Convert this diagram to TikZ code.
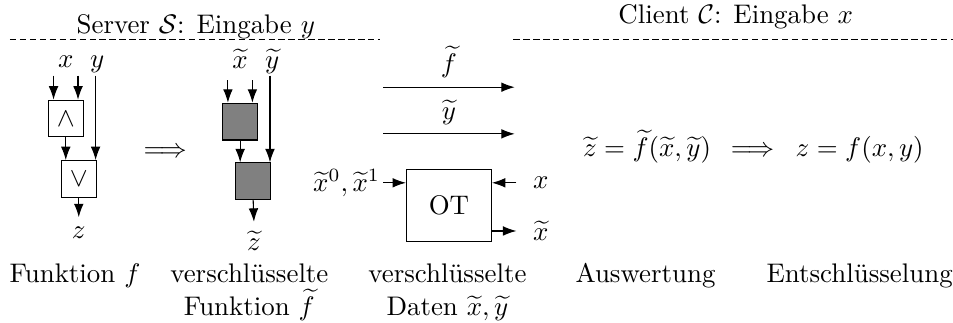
\documentclass[tikz,border=0pt]{standalone}
\usetikzlibrary{arrows.meta}
\tikzset{
  gate/.style={draw, minimum width=0.46cm, minimum height=0.48cm, inner sep=0pt},
  egate/.style={gate, fill=gray},
  side/.style={inner sep=6pt},
  caption/.style={anchor=base, align=center},
  sep/.style={dash pattern=on 2.4pt off 1.3pt}
}
\begin{document}
\begin{tikzpicture}[>={Latex[length=5pt,width=3.6pt]}]
    \useasboundingbox (0,0) rectangle (12.46,4.21);
    % Headers
    \node[anchor=base] (srv) at (2.56,3.77) {Server $\mathcal{S}$: Eingabe $y$};
    \node[anchor=base] (cli) at (9.62,3.90) {Client $\mathcal{C}$: Eingabe $x$};
    \draw[sep] (0.13,3.69) -- (4.97,3.69);
    \draw[sep] (6.71,3.69) -- (12.46,3.69);
    % Plain circuit
    \coordinate (top) at (0,3.22);
    \node[gate] (and) at (0.86,2.66) {$\wedge$};
    \node[gate] (or) at (1.03,1.87) {$\vee$};
    \node[anchor=base] (x) at (0.86,3.33) {$x$};
    \node[anchor=base] (y) at (1.27,3.33) {$y$};
    \node[anchor=north] (z) at (1.03,1.37) {$z$};
    \coordinate (a1) at ([xshift=-0.16cm]and.north);
    \coordinate (a2) at ([xshift=0.16cm]and.north);
    \coordinate (yin) at (1.25,3.22);
    \draw[->] (a1 |- top) -- (a1);
    \draw[->] (a2 |- top) -- (a2);
    \draw[->] (and.south) -- (and.south |- or.north);
    \draw[->] (yin) -- (yin |- or.north);
    \draw[->] (or.south) -- (z.north);
    \node (imp1) at (2.16,2.22) {$\Longrightarrow$};
    % Garbled circuit
    \coordinate (etop) at (0,3.16);
    \node[egate] (eand) at (3.14,2.62) {};
    \node[egate] (eor) at (3.31,1.84) {};
    \node[anchor=base] (ex) at (3.14,3.31) {$\widetilde{x}$};
    \node[anchor=base] (ey) at (3.56,3.31) {$\widetilde{y}$};
    \node[anchor=north] (ez) at (3.32,1.31) {$\widetilde{z}$};
    \coordinate (e1) at ([xshift=-0.16cm]eand.north);
    \coordinate (e2) at ([xshift=0.16cm]eand.north);
    \coordinate (eyin) at (3.53,3.22);
    \draw[->] (e1 |- etop) -- (e1);
    \draw[->] (e2 |- etop) -- (e2);
    \draw[->] (eand.south) -- (eand.south |- eor.north);
    \draw[->] (eyin) -- (eyin |- eor.north);
    \draw[->] (eor.south) -- (ez.north);
    % Transfer
    \coordinate (fs) at (5.01,3.07);
    \coordinate (fe) at (6.73,3.07);
    \coordinate (ys) at (5.01,2.46);
    \coordinate (ye) at (6.73,2.46);
    \draw[->] (fs) -- (fe) node[midway, above] {$\widetilde{f}$};
    \draw[->] (ys) -- (ye) node[midway, above] {$\widetilde{y}$};
    \node[draw, minimum width=1.11cm, minimum height=0.94cm] (ot) at (5.87,1.52) {OT};
    \node[anchor=east, inner sep=1pt] (keys) at (5.01,1.82) {$\widetilde{x}^0,\widetilde{x}^1$};
    \node[side] (xc) at (7.07,1.82) {$x$};
    \node[side] (xo) at (7.07,1.19) {$\widetilde{x}$};
    \draw[->] (keys) -- (keys -| ot.west);
    \draw[->] (xc) -- (xc -| ot.east);
    \draw[->] (xo -| ot.east) -- (xo);
    % Client side
    \node[anchor=base] (eval) at (8.46,2.16) {$\widetilde{z} = \widetilde{f}(\widetilde{x},\widetilde{y})$};
    \node[anchor=base] (imp2) at (9.84,2.16) {$\Longrightarrow$};
    \node[anchor=base] (dec) at (11.24,2.16) {$z = f(x,y)$};
    % Captions (base = last line)
    \node[caption] (c1) at (0.98,0.51) {Funktion $f$};
    \node[caption] (c2) at (3.26,0.09) {verschl\"usselte\\Funktion $\widetilde{f}$};
    \node[caption] (c3) at (5.85,0.09) {verschl\"usselte\\Daten $\widetilde{x},\widetilde{y}$};
    \node[caption] (c4) at (8.44,0.51) {Auswertung};
    \node[caption] (c5) at (11.24,0.51) {Entschl\"usselung};
\end{tikzpicture}
\end{document}
